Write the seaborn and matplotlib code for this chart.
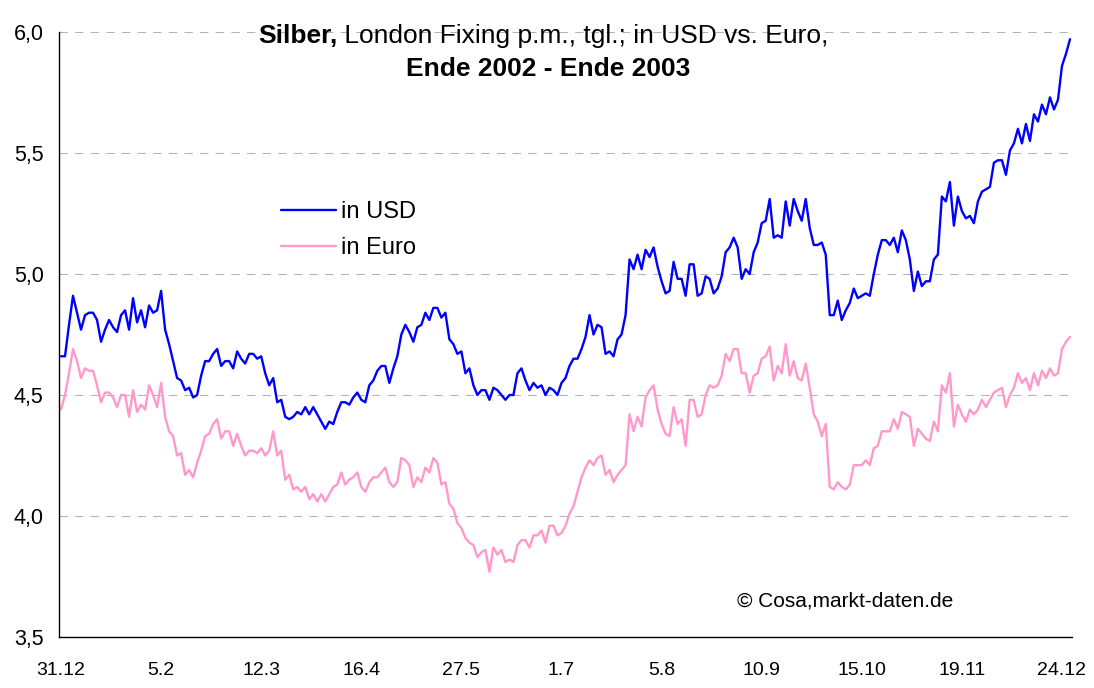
import pandas as pd
import seaborn as sns
import matplotlib.pyplot as plt
from matplotlib.ticker import FuncFormatter, MultipleLocator

# Silber, London Fixing p.m., Handelstage ab 31.12.2002
usd = [
    4.66, 4.66, 4.79, 4.91, 4.84, 4.77, 4.83, 4.84, 4.84, 4.81,
    4.72, 4.77, 4.81, 4.78, 4.76, 4.83, 4.85, 4.77, 4.90, 4.80,
    4.85, 4.78, 4.87, 4.84, 4.85, 4.93, 4.77, 4.71, 4.64, 4.57,
    4.56, 4.52, 4.53, 4.49, 4.50, 4.58, 4.64, 4.64, 4.67, 4.69,
    4.62, 4.64, 4.64, 4.61, 4.68, 4.65, 4.63, 4.67, 4.67, 4.65,
    4.66, 4.59, 4.54, 4.57, 4.47, 4.48, 4.41, 4.40, 4.41, 4.43,
    4.42, 4.45, 4.42, 4.45, 4.42, 4.39, 4.36, 4.39, 4.38, 4.43,
    4.47, 4.47, 4.46, 4.49, 4.51, 4.48, 4.47, 4.54, 4.56, 4.60,
    4.62, 4.62, 4.55, 4.61, 4.66, 4.75, 4.79, 4.76, 4.72, 4.78,
    4.79, 4.84, 4.81, 4.86, 4.86, 4.82, 4.84, 4.73, 4.71, 4.67,
    4.68, 4.59, 4.61, 4.54, 4.50, 4.52, 4.52, 4.48, 4.53, 4.52,
    4.50, 4.48, 4.50, 4.50, 4.59, 4.61, 4.56, 4.52, 4.55, 4.53,
    4.54, 4.50, 4.53, 4.52, 4.50, 4.55, 4.57, 4.62, 4.65, 4.65,
    4.69, 4.74, 4.83, 4.75, 4.79, 4.78, 4.67, 4.68, 4.66, 4.73,
    4.75, 4.83, 5.06, 5.02, 5.08, 5.02, 5.10, 5.07, 5.11, 5.03,
    4.97, 4.92, 4.93, 5.05, 4.98, 4.98, 4.91, 5.04, 5.04, 4.91,
    4.92, 4.99, 4.98, 4.92, 4.94, 4.99, 5.09, 5.11, 5.15, 5.11,
    4.98, 5.02, 5.00, 5.09, 5.13, 5.21, 5.22, 5.31, 5.15, 5.16,
    5.15, 5.30, 5.20, 5.31, 5.26, 5.22, 5.31, 5.19, 5.12, 5.12,
    5.13, 5.08, 4.83, 4.83, 4.89, 4.81, 4.85, 4.88, 4.94, 4.90,
    4.91, 4.92, 4.91, 5.00, 5.08, 5.14, 5.14, 5.12, 5.15, 5.09,
    5.18, 5.14, 5.06, 4.93, 5.01, 4.95, 4.97, 4.97, 5.06, 5.08,
    5.32, 5.30, 5.38, 5.20, 5.32, 5.26, 5.23, 5.24, 5.21, 5.30,
    5.34, 5.35, 5.36, 5.46, 5.47, 5.47, 5.41, 5.51, 5.54, 5.60,
    5.54, 5.62, 5.55, 5.66, 5.63, 5.70, 5.66, 5.73, 5.68, 5.72,
    5.86, 5.91, 5.97,
]

euro = [
    4.44, 4.50, 4.59, 4.69, 4.64, 4.57, 4.61, 4.60, 4.60, 4.54,
    4.47, 4.51, 4.51, 4.49, 4.45, 4.50, 4.50, 4.41, 4.52, 4.43,
    4.46, 4.44, 4.54, 4.50, 4.45, 4.55, 4.41, 4.35, 4.33, 4.25,
    4.26, 4.17, 4.19, 4.16, 4.22, 4.27, 4.33, 4.34, 4.38, 4.40,
    4.32, 4.35, 4.35, 4.29, 4.34, 4.29, 4.25, 4.27, 4.27, 4.26,
    4.28, 4.25, 4.27, 4.35, 4.25, 4.27, 4.15, 4.17, 4.11, 4.12,
    4.10, 4.12, 4.07, 4.09, 4.06, 4.09, 4.06, 4.09, 4.12, 4.13,
    4.18, 4.13, 4.15, 4.16, 4.18, 4.12, 4.10, 4.14, 4.16, 4.16,
    4.18, 4.20, 4.14, 4.12, 4.14, 4.24, 4.23, 4.21, 4.12, 4.16,
    4.14, 4.20, 4.18, 4.24, 4.22, 4.13, 4.14, 4.05, 4.03, 3.97,
    3.95, 3.91, 3.89, 3.88, 3.83, 3.85, 3.86, 3.77, 3.87, 3.84,
    3.86, 3.81, 3.82, 3.81, 3.88, 3.90, 3.90, 3.87, 3.92, 3.92,
    3.94, 3.89, 3.96, 3.96, 3.92, 3.93, 3.96, 4.01, 4.04, 4.10,
    4.16, 4.20, 4.23, 4.21, 4.24, 4.25, 4.17, 4.19, 4.14, 4.17,
    4.19, 4.21, 4.42, 4.35, 4.41, 4.37, 4.49, 4.52, 4.54, 4.44,
    4.38, 4.34, 4.33, 4.45, 4.38, 4.40, 4.29, 4.48, 4.48, 4.41,
    4.42, 4.50, 4.54, 4.53, 4.54, 4.58, 4.67, 4.64, 4.69, 4.69,
    4.59, 4.59, 4.51, 4.58, 4.59, 4.65, 4.66, 4.70, 4.56, 4.62,
    4.59, 4.71, 4.58, 4.64, 4.57, 4.56, 4.63, 4.53, 4.42, 4.39,
    4.33, 4.38, 4.12, 4.11, 4.14, 4.12, 4.11, 4.13, 4.21, 4.21,
    4.21, 4.23, 4.21, 4.28, 4.29, 4.35, 4.35, 4.35, 4.40, 4.36,
    4.43, 4.42, 4.41, 4.29, 4.36, 4.34, 4.32, 4.31, 4.39, 4.35,
    4.54, 4.51, 4.59, 4.37, 4.46, 4.42, 4.39, 4.44, 4.42, 4.44,
    4.48, 4.45, 4.48, 4.51, 4.52, 4.53, 4.45, 4.50, 4.53, 4.59,
    4.55, 4.57, 4.52, 4.59, 4.54, 4.60, 4.57, 4.61, 4.58, 4.59,
    4.69, 4.72, 4.74,
]

tick_labels = ["31.12", "5.2", "12.3", "16.4", "27.5", "1.7",
               "5.8", "10.9", "15.10", "19.11", "24.12"]
tick_every = 25  # Handelstage zwischen zwei Beschriftungen

W, H = 1094, 688


def comma(v, pos):
    return f"{v:.1f}".replace(".", ",")


def main():
    n = len(usd)
    df = pd.DataFrame({
        "day": list(range(n)) * 2,
        "price": usd + euro,
        "series": ["in USD"] * n + ["in Euro"] * n,
    })

    sns.set_style("white")
    plt.rcParams["font.family"] = ["Liberation Sans", "DejaVu Sans"]
    plt.rcParams["text.color"] = "black"
    plt.rcParams["xtick.color"] = "black"
    plt.rcParams["ytick.color"] = "black"

    fig = plt.figure(figsize=(W / 100, H / 100), dpi=100)
    ax = fig.add_axes([59 / W, 51 / H, 1013 / W, 605 / H])

    sns.lineplot(data=df, x="day", y="price", hue="series",
                 palette={"in USD": "#0000ff", "in Euro": "#ff99cc"},
                 linewidth=1.7, errorbar=None, ax=ax)

    ax.set_xlim(-0.5, n - 0.5)
    ax.set_ylim(3.5, 6.0)
    ax.set_xticks(range(0, tick_every * len(tick_labels), tick_every))
    ax.set_xticklabels(tick_labels)
    ax.yaxis.set_major_locator(MultipleLocator(0.5))
    ax.yaxis.set_major_formatter(FuncFormatter(comma))
    ax.set_xlabel("")
    ax.set_ylabel("")

    ax.tick_params(axis="x", length=5, width=1, colors="black",
                   labelsize=14, pad=13, direction="out")
    ax.tick_params(axis="y", length=5, width=1, colors="black",
                   labelsize=15.5, pad=6, direction="out")

    ax.grid(axis="y", color="#b3b3b3", linestyle=(0, (8, 7)), linewidth=0.75)
    ax.set_axisbelow(True)
    for side in ["top", "right"]:
        ax.spines[side].set_visible(False)
    for side in ["left", "bottom"]:
        ax.spines[side].set_color("black")
        ax.spines[side].set_linewidth(1.0)

    handles, labels = ax.get_legend_handles_labels()
    ax.legend(handles, labels, loc="upper left",
              bbox_to_anchor=(281 / W, 1 - 201 / H),
              bbox_transform=fig.transFigure, frameon=False,
              fontsize=17, handlelength=2.33, handletextpad=0.22,
              labelspacing=0.6, borderpad=0, borderaxespad=0)

    t1 = fig.text(258 / W, 1 - 36 / H, "Silber,", fontsize=19,
                  fontweight="bold", va="center", ha="left", color="black")
    ax.annotate(" London Fixing p.m., tgl.; in USD vs. Euro,",
                xy=(1, 0.5), xycoords=t1, va="center", ha="left",
                fontsize=19, color="black")
    fig.text(548 / W, 1 - 69 / H, "Ende 2002 - Ende 2003", fontsize=19,
             fontweight="bold", va="center", ha="center", color="black")

    fig.text(737 / W, 1 - 601 / H, "\u00a9 Cosa,markt-daten.de",
             fontsize=15, va="center", ha="left", color="black")

    fig.savefig("out.png", dpi=100)
    plt.close(fig)


if __name__ == "__main__":
    main()
